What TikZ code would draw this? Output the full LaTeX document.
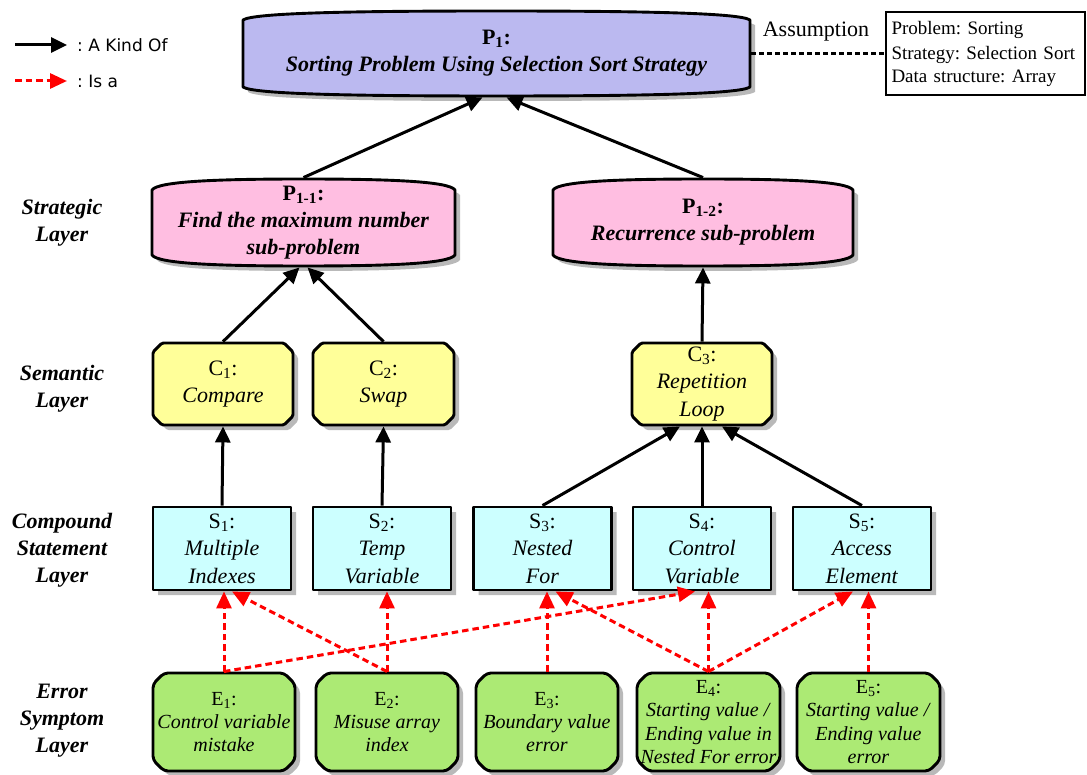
\documentclass[tikz,border=0pt]{standalone}
\usepackage{fontspec}
\setmainfont{Liberation Serif}
\newfontfamily\legendfont{DejaVu Sans}
\usetikzlibrary{arrows.meta,calc}

\definecolor{goalfill}{RGB}{187,185,240}
\definecolor{subfill}{RGB}{255,190,225}
\definecolor{conceptfill}{RGB}{255,255,153}
\definecolor{stmtfill}{RGB}{204,255,255}
\definecolor{errfill}{RGB}{172,234,116}
\definecolor{shadowgray}{RGB}{185,185,185}

\newcommand\bigfont{\fontsize{22}{27}\selectfont\bfseries}
\newcommand\boxfont{\fontsize{22}{27.5}\selectfont}
\newcommand\errfont{\fontsize{20}{23.3}\selectfont}

\tikzset{
  outline/.style={draw=black, line width=2.9pt, line join=round},
  dropshadow/.style={fill=shadowgray},
  boxtext/.style={inner sep=0pt, outer sep=1.45pt, align=center, font=\boxfont},
  conceptshape/.style={rounded corners=1.5pt},
  stmtshape/.style={},
  errshape/.style={rounded corners=4pt, font=\errfont},
  kind/.style={line width=3pt, -{Triangle[length=16pt,width=15pt]}},
  isa/.style={red, line width=3pt, dash pattern=on 6.5pt off 4pt,
    -{Triangle[length=17pt,width=15pt]}},
  layername/.style={align=center, inner sep=0pt, font=\fontsize{22}{27}\selectfont\bfseries\itshape},
  legendtext/.style={inner xsep=10pt, inner ysep=0pt, font=\legendfont\fontsize{17}{20}\selectfont},
  assumptionlink/.style={line width=3pt, dash pattern=on 5pt off 3pt},
}

% barrel outline: #1 options, #2 left, #3 right, #4 top corner y, #5 bottom corner y, #6 bulge
\newcommand\barreldraw[6]{%
  \path[#1] (#2,#4)
    .. controls ({#2+0.02*(#3-#2)},{#4-0.8*#6}) and ({#2+0.22*(#3-#2)},{#4-#6}) .. ({(#2+#3)/2},{#4-#6})
    .. controls ({#3-0.22*(#3-#2)},{#4-#6}) and ({#3-0.02*(#3-#2)},{#4-0.8*#6}) .. (#3,#4)
    -- (#3,#5)
    .. controls ({#3-0.02*(#3-#2)},{#5+0.8*#6}) and ({#3-0.22*(#3-#2)},{#5+#6}) .. ({(#2+#3)/2},{#5+#6})
    .. controls ({#2+0.22*(#3-#2)},{#5+#6}) and ({#2+0.02*(#3-#2)},{#5+0.8*#6}) .. (#2,#5)
    -- cycle;}

% barrel node: #1 name, #2 left, #3 right, #4 top corner, #5 bottom corner, #6 bulge, #7 fill, #8 text
\newcommand\barrelbox[8]{%
  \barreldraw{dropshadow,shift={(5,5)}}{#2}{#3}{#4}{#5}{#6}
  \barreldraw{outline,fill=#7}{#2}{#3}{#4}{#5}{#6}
  \node[boxtext, font=\bigfont, minimum width={(#3-#2)*1pt}, minimum height={(#5-#4+2*#6)*1pt}]
    (#1) at ({(#2+#3)/2},{(#4+#5)/2}) {#8};}

% chamfered outline: #1 options, #2 cx, #3 cy, #4 w, #5 h, #6 chamfer
\newcommand\chamdraw[6]{%
  \path[#1] ({#2-#4/2+#6},{#3-#5/2}) -- ({#2+#4/2-#6},{#3-#5/2}) -- ({#2+#4/2},{#3-#5/2+#6})
    -- ({#2+#4/2},{#3+#5/2-#6}) -- ({#2+#4/2-#6},{#3+#5/2}) -- ({#2-#4/2+#6},{#3+#5/2})
    -- ({#2-#4/2},{#3+#5/2-#6}) -- ({#2-#4/2},{#3-#5/2+#6}) -- cycle;}

% chamfered node: #1 name, #2 cx, #3 cy, #4 w, #5 h, #6 chamfer, #7 fill, #8 shape style, #9 text
\newcommand\chambox[9]{%
  \chamdraw{dropshadow,shift={(5,5)},#8}{#2}{#3}{#4}{#5}{#6}
  \chamdraw{outline,fill=#7,#8}{#2}{#3}{#4}{#5}{#6}
  \node[boxtext, #8, minimum width=#4pt, minimum height=#5pt] (#1) at (#2,#3) {#9};}

\begin{document}
\frenchspacing
\begin{tikzpicture}[x=1pt,y=-1pt]
\useasboundingbox (0,0) rectangle (1087,775);

% legend
\coordinate (kindstart) at (15,45);
\node[legendtext, anchor=west] (kindtxt) at (67,45) {: A Kind Of};
\draw[kind] (kindstart) -- (kindtxt.west);
\coordinate (isastart) at (15,81);
\node[legendtext, anchor=west] (isatxt) at (67,81) {: Is a};
\draw[isa] (isastart) -- (isatxt.west);

% layer names
\node[layername] (lstrat) at (62,223) {Strategic\\Layer};
\node[layername] (lsem) at (62,389) {Semantic\\Layer};
\node[layername] (lcomp) at (62,550) {Compound\\Statement\\Layer};
\node[layername] (lerr) at (62,721) {Error\\Symptom\\Layer};

% problem and sub-problems
\barrelbox{p1}{243}{750}{20}{87}{9}{goalfill}
  {P\textsubscript{1}:\\\textit{Sorting Problem Using Selection Sort Strategy}}
\barrelbox{p11}{152}{455}{190}{255}{11}{subfill}
  {P\textsubscript{1-1}:\\\textit{Find the maximum number}\\\textit{sub-problem}}
\barrelbox{p12}{553}{853}{190}{255}{11}{subfill}
  {P\textsubscript{1-2}:\\\textit{Recurrence sub-problem}}

% assumption
\node[font=\fontsize{22}{26}\selectfont, inner sep=0pt] (asm) at (816,32) {Assumption};
\node[draw, line width=1.2pt, minimum width=199pt, minimum height=83pt, text width=188pt,
  align=left, inner sep=0pt, font=\fontsize{19}{23}\selectfont] (asmbox) at (985.5,53.5)
  {\vspace{2pt}Problem: Sorting\\Strategy: Selection Sort\\Data structure: Array};
\draw[assumptionlink] (p1.east) -- (asmbox.west);

% semantic concepts
\chambox{c1}{223}{384}{140}{82}{9}{conceptfill}{conceptshape}
  {C\textsubscript{1}:\\\textit{Compare}}
\chambox{c2}{383.5}{384}{141}{82}{9}{conceptfill}{conceptshape}
  {C\textsubscript{2}:\\\textit{Swap}}
\chambox{c3}{702}{384}{140}{82}{9}{conceptfill}{conceptshape}
  {C\textsubscript{3}:\\\textit{Repetition}\\\textit{Loop}}

% compound statements
\chambox{s1}{222}{548.5}{138}{83}{0}{stmtfill}{stmtshape}
  {S\textsubscript{1}:\\\textit{Multiple}\\\textit{Indexes}}
\chambox{s2}{382}{548.5}{138}{83}{0}{stmtfill}{stmtshape}
  {S\textsubscript{2}:\\\textit{Temp}\\\textit{Variable}}
\chambox{s3}{542.5}{548.5}{138}{83}{0}{stmtfill}{stmtshape}
  {S\textsubscript{3}:\\\textit{Nested}\\\textit{For}}
\chambox{s4}{702}{548.5}{138}{83}{0}{stmtfill}{stmtshape}
  {S\textsubscript{4}:\\\textit{Control}\\\textit{Variable}}
\chambox{s5}{862}{548.5}{138}{83}{0}{stmtfill}{stmtshape}
  {S\textsubscript{5}:\\\textit{Access}\\\textit{Element}}

% error symptoms
\chambox{e1}{224}{722}{142}{98}{11}{errfill}{errshape}
  {E\textsubscript{1}:\\\textit{Control variable}\\\textit{mistake}}
\chambox{e2}{387}{722}{142}{98}{11}{errfill}{errshape}
  {E\textsubscript{2}:\\\textit{Misuse array}\\\textit{index}}
\chambox{e3}{547}{722}{142}{98}{11}{errfill}{errshape}
  {E\textsubscript{3}:\\\textit{Boundary value}\\\textit{error}}
\chambox{e4}{708.5}{722}{143}{98}{11}{errfill}{errshape}
  {E\textsubscript{4}:\\\textit{Starting value /}\\\textit{Ending value in}\\\textit{Nested For error}}
\chambox{e5}{868.5}{722}{143}{98}{11}{errfill}{errshape}
  {E\textsubscript{5}:\\\textit{Starting value /}\\\textit{Ending value}\\\textit{error}}

% a-kind-of links
\draw[kind] (p11.north) -- ($(p1.south)+(-14,0)$);
\draw[kind] (p12.north) -- ($(p1.south)+(10,0)$);
\draw[kind] (c1.north) -- ($(p11.south)+(-4,0)$);
\draw[kind] (c2.north) -- ($(p11.south)+(4,0)$);
\draw[kind] (c3.north) -- (p12.south);
\draw[kind] (s1.north) -- (c1.south);
\draw[kind] (s2.north) -- (c2.south);
\draw[kind] (s3.north) -- ($(c3.south)+(-22,0)$);
\draw[kind] (s4.north) -- (c3.south);
\draw[kind] (s5.north) -- ($(c3.south)+(20,0)$);

% is-a links
\draw[isa] (e1.north) -- (e1.north |- s1.south);
\draw[isa] (e1.north) -- ($(s4.south)+(-7,0)$);
\draw[isa] (e2.north) -- ($(s1.south)+(10,0)$);
\draw[isa] (e2.north) -- (e2.north |- s2.south);
\draw[isa] (e3.north) -- (e3.north |- s3.south);
\draw[isa] (e4.north) -- ($(s3.south)+(13,0)$);
\draw[isa] (e4.north) -- (e4.north |- s4.south);
\draw[isa] (e4.north) -- ($(s5.south)+(-9,0)$);
\draw[isa] (e5.north) -- (e5.north |- s5.south);
\end{tikzpicture}
\end{document}
